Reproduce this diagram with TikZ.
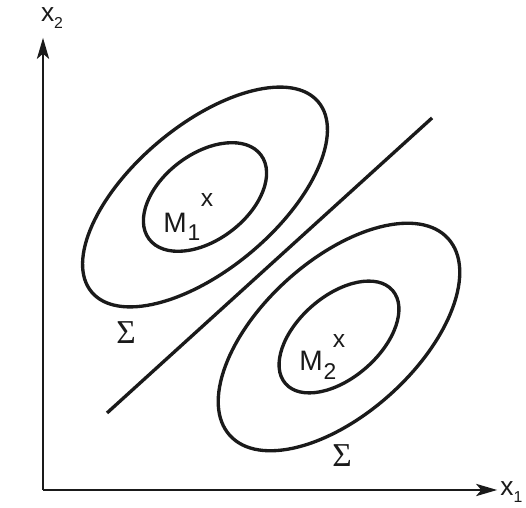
\documentclass[tikz,border=0pt]{standalone}
\usepackage{fontspec}
\setmainfont{Liberation Sans}
\newfontfamily\sigmafont{Liberation Serif}
\usetikzlibrary{arrows.meta,positioning}
\definecolor{ink}{HTML}{1A1A1A}
\tikzset{
  axis/.style={-{Stealth[length=12pt,width=7pt,inset=3pt]},line width=1pt,ink},
  contour/.style={line width=1.9pt,ink},
  border/.style={line width=1.9pt,ink},
  meanlabel/.style={font=\fontsize{16}{16}\selectfont,text=ink,inner sep=0pt},
  sublabel/.style={font=\fontsize{13}{13}\selectfont,text=ink,inner sep=0pt},
  crosslabel/.style={font=\fontsize{14}{14}\selectfont,text=ink,inner sep=0pt},
  sigmalabel/.style={font=\sigmafont\fontsize{19}{19}\selectfont,text=ink,inner sep=0pt},
  axislabel/.style={font=\fontsize{15}{15}\selectfont,text=ink,inner sep=0pt}
}
\begin{document}
\begin{tikzpicture}[scale=0.02]
  \useasboundingbox (0,0) rectangle (526,508);
  % axes
  \coordinate (origin) at (43,18);
  \coordinate (xend) at (497,18);
  \coordinate (yend) at (43,470);
  \draw[axis] (origin) -- (xend);
  \draw[axis] (origin) -- (yend);
  \node[axislabel,anchor=west] (xonelbl) at (500,16) {x\raisebox{-0.45ex}{\small 1}};
  \node[axislabel] (xtwolbl) at (52,490) {x\raisebox{-0.45ex}{\small 2}};
  % class 1, centred at (205,311)
  \draw[contour,rotate around={40:(205,311)}] (205,311) ellipse [x radius=148,y radius=72];
  \draw[contour,rotate around={37:(205,311)}] (205,311) ellipse [x radius=70,y radius=43];
  \node[meanlabel] (mone) at (175,285) {M};
  \node[sublabel] (monesub) at (194,275) {1};
  \node[crosslabel] (xone) at (207,308) {x};
  \node[sigmalabel] (sigone) at (126,175) {Σ};
  % class 2, centred at (339,171)
  \draw[contour,rotate around={42:(339,171)}] (339,171) ellipse [x radius=147,y radius=77];
  \draw[contour,rotate around={41:(339,171)}] (339,171) ellipse [x radius=71,y radius=41];
  \node[meanlabel] (mtwo) at (311,147) {M};
  \node[sublabel] (mtwosub) at (330,136) {2};
  \node[crosslabel] (xtwo) at (339,167) {x};
  \node[sigmalabel] (sigtwo) at (342,52) {Σ};
  % decision boundary
  \coordinate (bstart) at (107,95);
  \coordinate (bend) at (432,390);
  \draw[border] (bstart) -- (bend);
\end{tikzpicture}
\end{document}
